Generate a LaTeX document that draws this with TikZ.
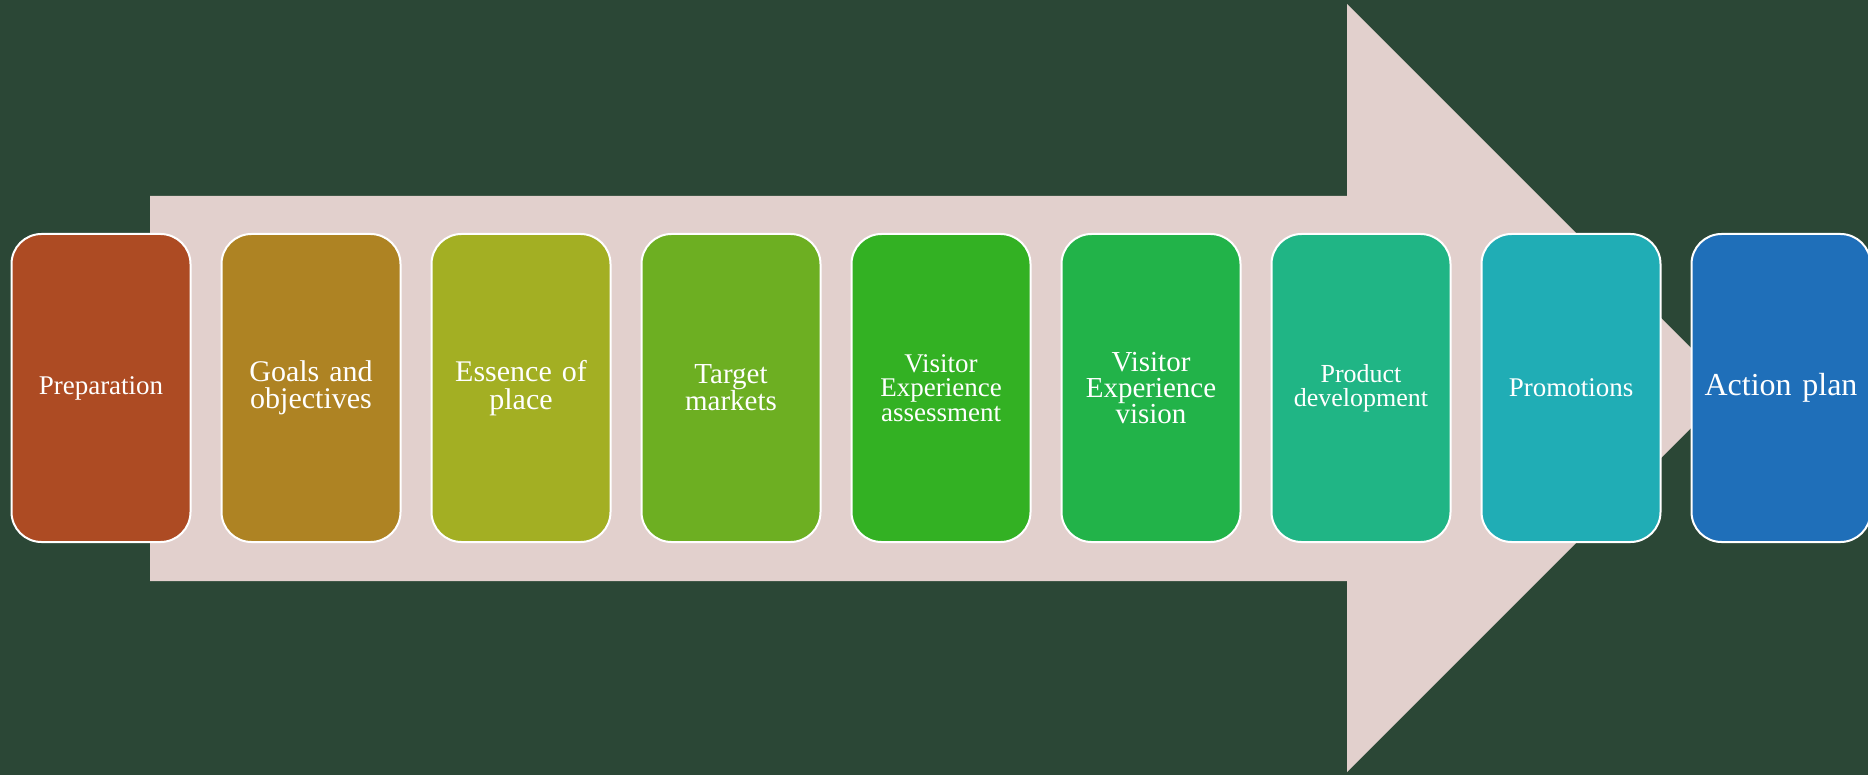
\documentclass[tikz,border=0pt]{standalone}
\usepackage{fontspec}
\setmainfont{Liberation Serif}[WordSpace={1.1,0.5,0.5}]
\definecolor{bg}{HTML}{2B4736}
\definecolor{arrowpink}{HTML}{E2D0CD}
\definecolor{cA}{HTML}{AD4B23}
\definecolor{cB}{HTML}{AE8323}
\definecolor{cC}{HTML}{A3AF23}
\definecolor{cD}{HTML}{6DAF22}
\definecolor{cE}{HTML}{33B123}
\definecolor{cF}{HTML}{22B349}
\definecolor{cG}{HTML}{20B585}
\definecolor{cH}{HTML}{20ADB5}
\definecolor{cI}{HTML}{1F6FB9}
\tikzset{
  stepbox/.style={draw=white, line width=2pt, rounded corners=30pt,
    minimum width=179pt, minimum height=308pt, inner sep=4pt,
    text width=170pt, align=center, text=white},
}
\begin{document}
\begin{tikzpicture}[x=1pt,y=-1pt]
\fill[bg] (0,0) rectangle (1868,775);
\useasboundingbox (0,0) rectangle (1868,775);
\clip (0,0) rectangle (1868,775);
\fill[arrowpink] (150,196) -- (1347,196) -- (1347,4) -- (1731,388) -- (1347,772) -- (1347,581) -- (150,581) -- cycle;
\node[stepbox, fill=cA, font=\fontsize{27}{24}\selectfont] (b1) at (101,388) {Preparation};
\node[stepbox, fill=cB, font=\fontsize{30}{27.5}\selectfont] (b2) at (311,388) {Goals and\\objectives};
\node[stepbox, fill=cC, font=\fontsize{30}{27.5}\selectfont] (b3) at (521,388) {Essence of\\place};
\node[stepbox, fill=cD, font=\fontsize{29}{27}\selectfont] (b4) at (731,388) {Target\\markets};
\node[stepbox, fill=cE, font=\fontsize{27}{24.5}\selectfont] (b5) at (941,388) {Visitor\\Experience\\assessment};
\node[stepbox, fill=cF, font=\fontsize{29}{26}\selectfont] (b6) at (1151,388) {Visitor\\Experience\\vision};
\node[stepbox, fill=cG, font=\fontsize{26}{24}\selectfont] (b7) at (1361,388) {Product\\development};
\node[stepbox, fill=cH, font=\fontsize{27}{24}\selectfont] (b8) at (1571,388) {Promotions};
\node[stepbox, fill=cI, font=\fontsize{32}{29}\selectfont] (b9) at (1781,388) {Action plan};
\end{tikzpicture}
\end{document}
